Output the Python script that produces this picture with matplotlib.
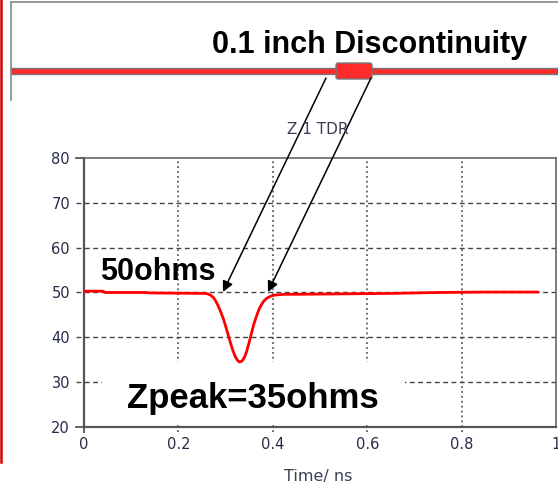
import matplotlib
matplotlib.use("Agg")
import matplotlib.pyplot as plt
from matplotlib.patches import Rectangle, FancyBboxPatch, FancyArrowPatch
from matplotlib.lines import Line2D

# ---- data ----
time_ns = [0.0, 0.04, 0.045, 0.13, 0.14, 0.255, 0.262, 0.268, 0.274, 0.279,
           0.284, 0.290, 0.296, 0.302, 0.308, 0.314, 0.320, 0.325, 0.329,
           0.333, 0.337, 0.341, 0.345, 0.350, 0.355, 0.360, 0.366, 0.371,
           0.376, 0.381, 0.387, 0.394, 0.402, 0.412, 0.425, 0.45, 0.55,
           0.65, 0.75, 0.85, 0.962]
impedance = [50.3, 50.3, 50.0, 50.0, 49.9, 49.8, 49.7, 49.4, 48.9, 48.1,
             47.1, 45.6, 43.9, 41.8, 39.6, 37.5, 35.8, 34.9, 34.5,
             34.6, 35.0, 35.8, 37.0, 38.9, 41.0, 43.0, 44.9, 46.3,
             47.3, 48.1, 48.7, 49.1, 49.4, 49.5, 49.6, 49.6, 49.7,
             49.8, 50.0, 50.1, 50.1]
x_ticks = [0, 0.2, 0.4, 0.6, 0.8, 1]
x_tick_labels = ["0", "0.2", "0.4", "0.6", "0.8", "1"]
y_ticks = [20, 30, 40, 50, 60, 70, 80]
title = "Z 1 TDR"
x_label = "Time/ ns"
headline = "0.1 inch Discontinuity"
label_50 = "50ohms"
label_peak = "Zpeak=35ohms"

W, H = 558, 494
fig = plt.figure(figsize=(W / 100, H / 100), dpi=100)
fig.patch.set_facecolor("white")


def fx(x):
    return x / W


def fy(y):
    return 1 - y / H


ax = fig.add_axes([fx(84), fy(427), fx(556) - fx(84), fy(158) - fy(427)])
ax.set_xlim(0, 1)
ax.set_ylim(20, 80)

grid_col = "#444444"
# horizontal dashed gridlines (extend left like ticks)
for yv in y_ticks[1:-1]:
    ax.add_line(Line2D([-0.017, 1], [yv, yv], transform=ax.get_yaxis_transform(),
                       color=grid_col, lw=1.0, ls=(0, (3.5, 2.5)), clip_on=False, zorder=1))
for yv in [20, 80]:
    ax.add_line(Line2D([-0.017, 0], [yv, yv], transform=ax.get_yaxis_transform(),
                       color="#555555", lw=1.3, clip_on=False, zorder=1))
# vertical dotted gridlines
for xv in x_ticks[1:-1]:
    ax.add_line(Line2D([xv, xv], [-0.02, 1], transform=ax.get_xaxis_transform(),
                       color=grid_col, lw=1.1, ls=(0, (1.2, 2.0)), clip_on=False, zorder=1))
ax.add_line(Line2D([0, 0], [-0.02, 0], transform=ax.get_xaxis_transform(),
                   color="#555555", lw=1.3, clip_on=False, zorder=1))

ax.set_xticks(x_ticks)
ax.set_xticklabels(x_tick_labels)
ax.set_yticks(y_ticks)
ax.tick_params(length=0, labelsize=10.5, labelcolor="#262c48")
ax.tick_params(axis="y", pad=10)
ax.tick_params(axis="x", pad=7)
for lab in ax.get_xticklabels() + ax.get_yticklabels():
    lab.set_family("DejaVu Sans")

for side in ["left", "bottom"]:
    ax.spines[side].set_color("#555555")
    ax.spines[side].set_linewidth(1.6)
for side in ["top", "right"]:
    ax.spines[side].set_color("#666666")
    ax.spines[side].set_linewidth(1.2)

# white box behind the peak label
ax.add_patch(Rectangle((fx(102), fy(425)), fx(405) - fx(102), fy(362) - fy(425),
                       transform=fig.transFigure, facecolor="white", edgecolor="none",
                       zorder=2))

ax.plot(time_ns, impedance, color="#ff0000", lw=2.0, zorder=3,
        solid_joinstyle="round", solid_capstyle="round")

fig.text(fx(318), fy(129), title, ha="center", va="center", fontsize=11,
         color="#3a3f55", family="DejaVu Sans")
fig.text(fx(318), fy(476), x_label, ha="center", va="center", fontsize=11.5,
         color="#3a3f55", family="DejaVu Sans")

# top frame
fig.add_artist(Line2D([fx(11), fx(558)], [fy(2.5), fy(2.5)], transform=fig.transFigure,
                      color="#888888", lw=1.2))
fig.add_artist(Line2D([fx(11), fx(11)], [fy(2.5), fy(100)], transform=fig.transFigure,
                      color="#888888", lw=1.2))
fig.add_artist(Rectangle((fx(11), fy(74)), fx(558) - fx(11), fy(68) - fy(74),
                         transform=fig.transFigure, facecolor="#ff2a2a",
                         edgecolor="#777777", lw=1.0))
fig.add_artist(FancyBboxPatch((fx(336), fy(79)), fx(372) - fx(336), fy(63) - fy(79),
                              boxstyle="round,pad=0,rounding_size=0.004",
                              transform=fig.transFigure, facecolor="#ff2a2a",
                              edgecolor="#777777", lw=1.0))
# left red line
fig.add_artist(Line2D([fx(1), fx(1)], [fy(0), fy(462)], transform=fig.transFigure,
                      color="#d40000", lw=1.8))

fig.text(fx(212), fy(53), headline, ha="left", va="baseline", fontsize=22,
         fontweight="bold", family="Liberation Sans", color="black")
fig.text(fx(100), fy(280), label_50, ha="left", va="baseline", fontsize=22,
         fontweight="bold", family="Liberation Sans", color="black")
fig.text(fx(127), fy(408), label_peak, ha="left", va="baseline", fontsize=25,
         fontweight="bold", family="Liberation Sans", color="black", zorder=5)

# arrows
for (x0, y0), (x1, y1) in [((326, 78), (223, 292)), ((371, 78), (268, 292))]:
    fig.add_artist(FancyArrowPatch((fx(x0), fy(y0)), (fx(x1), fy(y1)),
                                   transform=fig.transFigure, arrowstyle="-|>",
                                   mutation_scale=16, color="black", lw=1.1,
                                   shrinkA=0, shrinkB=0))

fig.savefig("out.png", dpi=100)
